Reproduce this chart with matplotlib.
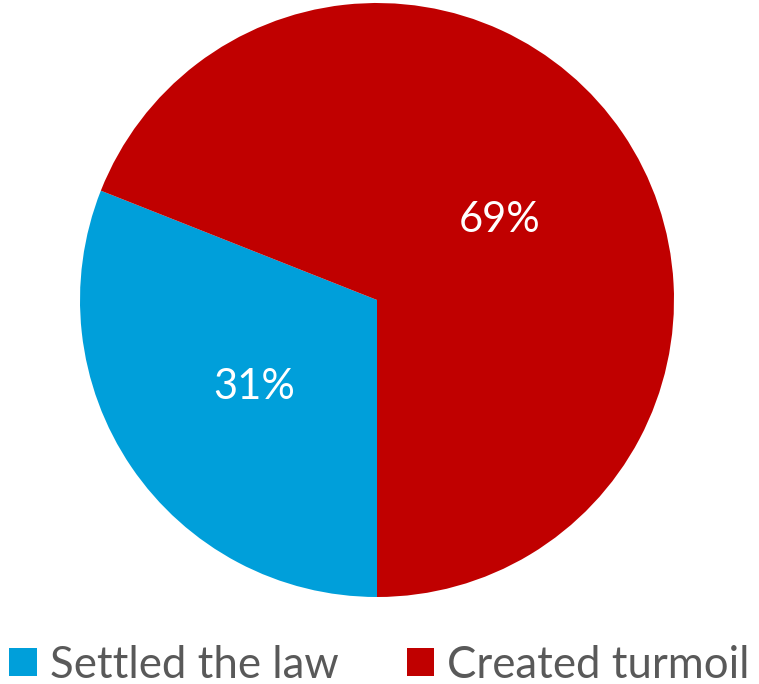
import matplotlib
matplotlib.use("Agg")
import matplotlib.pyplot as plt
from matplotlib.patches import Patch

labels = ["Settled the law", "Created turmoil"]
values = [31, 69]
colors = ["#009FDA", "#C00000"]

plt.rcParams['font.family'] = ['Lato', 'DejaVu Sans']

fig = plt.figure(figsize=(7.59, 6.84), dpi=100)
ax = fig.add_axes([80 / 759, 87 / 684, 594 / 759, 594 / 684])

wedges, texts, autotexts = ax.pie(values, colors=colors, startangle=270, counterclock=False,
                                  autopct='%d%%', pctdistance=0.5, radius=1.0,
                                  textprops=dict(color='white', fontsize=30))
for t in autotexts:
    t.set_va('center_baseline')
for w in wedges:
    w.set_clip_on(False)
ax.set_xlim(-1, 1)
ax.set_ylim(-1, 1)
ax.set_aspect('equal')

handles = [Patch(facecolor=c, edgecolor='none') for c in colors]
fig.legend(handles, labels, loc='center', bbox_to_anchor=(0.5, 19 / 684), ncol=2,
           frameon=False, fontsize=31.5, labelcolor='#595959',
           handlelength=0.63, handleheight=0.63, handletextpad=0.3, columnspacing=1.55,
           borderpad=0, borderaxespad=0)

fig.savefig("out.png", dpi=100)
